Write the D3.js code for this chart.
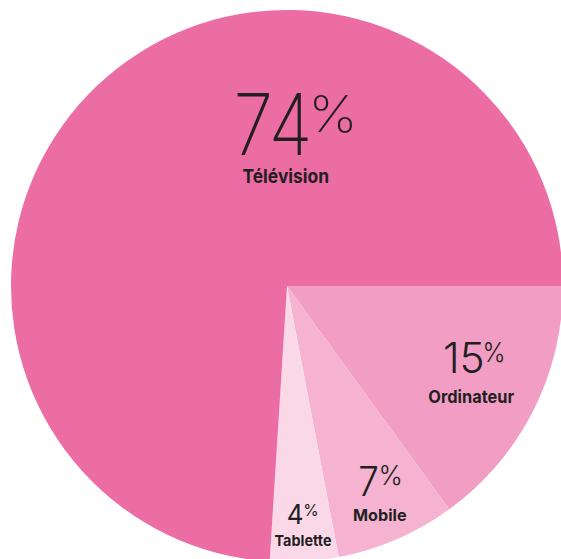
<!DOCTYPE html>
<html><head><meta charset="utf-8">
<script src="https://cdn.jsdelivr.net/npm/d3@7"></script>
<style>html,body{margin:0;padding:0;background:#fff;}svg{display:block;}</style>
</head><body>
<svg id="chart" width="561" height="559"></svg>
<script>
// Data
const categories = ["Ordinateur", "Mobile", "Tablette", "Télévision"];
const values = [15, 7, 4, 74];
const valueLabels = ["15", "7", "4", "74"];

// Styling / layout (not data)
const colors = ["#F29EC4", "#F5B3D1", "#FBD8E8", "#EC6CA4"];
const textColor = "#231F20";
const cx = 287, cy = 286, R = 276;
const FONT = "Inter";

// ink boxes relative to pie center: [x0, x1, top, bottom] for digits, percent sign, category name (cap height)
const labelLayout = {
  "Télévision": {w:200, num:[-50,21,-193,-131], pct:[27,65,-191,-153], name:[-44,41,-117,-103]},
  "Ordinateur": {w:300, num:[158,195,56,87], pct:[198,216,56,77], name:[142,227,104,117]},
  "Mobile":     {w:300, num:[73,90,180,210], pct:[94,113,180,200], name:[67,119,223,235]},
  "Tablette":   {w:400, num:[1,15,218,238], pct:[18,30,218,230], name:[-12,44,249,260]}
};

const svg = d3.select("#chart");
const g = svg.append("g").attr("transform", `translate(${cx},${cy})`);

const pie = d3.pie().sort(null).value(d => d.value)
  .startAngle(Math.PI / 2).endAngle(Math.PI / 2 + 2 * Math.PI);
const arc = d3.arc().innerRadius(0).outerRadius(R);
const data = categories.map((c, i) => ({cat: c, value: values[i], label: valueLabels[i], color: colors[i]}));

g.selectAll("path.slice").data(pie(data)).join("path")
  .attr("class", "slice")
  .attr("d", arc)
  .attr("fill", d => d.data.color);

const ctx = document.createElement("canvas").getContext("2d");
function measure(str, weight) {
  ctx.font = `${weight} 100px ${FONT}`;
  return ctx.measureText(str);
}
// fit the ink of str into box; capMode uses "H" cap height for vertical sizing
function boxText(sel, str, box, weight, capMode) {
  const [x0, x1, top, bottom] = box;
  const m = measure(str, weight);
  let hRef, desc;
  if (capMode) {
    hRef = measure("H", weight).actualBoundingBoxAscent; desc = 0;
  } else {
    desc = Math.max(0, m.actualBoundingBoxDescent);
    hRef = m.actualBoundingBoxAscent + desc;
  }
  const k = (bottom - top) / hRef;
  const fs = 100 * k;
  const inkW = (m.actualBoundingBoxLeft + m.actualBoundingBoxRight) * k;
  const sx = (x1 - x0) / inkW;
  const tx = x0 + m.actualBoundingBoxLeft * k * sx;
  const ty = bottom - desc * k;
  sel.append("text")
    .attr("transform", `translate(${tx},${ty}) scale(${sx},1)`)
    .attr("x", 0).attr("y", 0)
    .attr("font-family", FONT + ", 'Noto Sans', sans-serif")
    .attr("font-weight", weight)
    .attr("font-size", fs)
    .attr("fill", textColor)
    .text(str);
}

const labels = g.append("g").attr("class", "labels");
data.forEach(d => {
  const L = labelLayout[d.cat];
  const lg = labels.append("g");
  boxText(lg, d.label, L.num, L.w, false);
  boxText(lg, "%", L.pct, L.w, false);
  boxText(lg, d.cat, L.name, 700, true);
});
</script>
</body></html>
